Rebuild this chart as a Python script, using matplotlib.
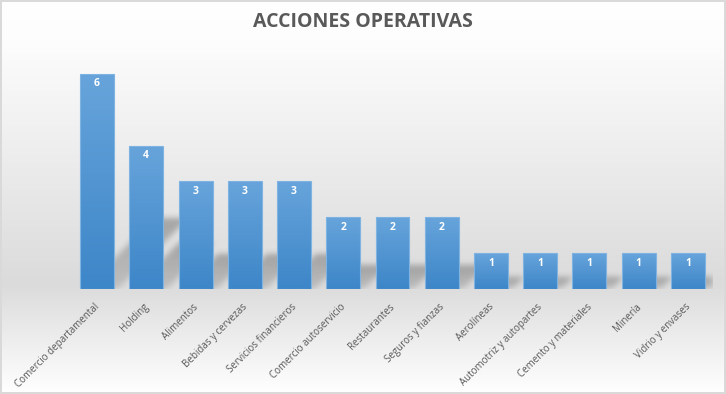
import numpy as np
import matplotlib
matplotlib.use('Agg')
import matplotlib.pyplot as plt
import matplotlib.transforms as mtransforms
from matplotlib.patches import Rectangle

# ---- data ----
categories = ['Comercio departamental', 'Holding', 'Alimentos', 'Bebidas y cervezas',
              'Servicios financieros', 'Comercio autoservicio', 'Restaurantes',
              'Seguros y fianzas', 'Aerolíneas', 'Automotriz y autopartes',
              'Cemento y materiales', 'Minería', 'Vidrio y envases']
values = [6, 4, 3, 3, 3, 2, 2, 2, 1, 1, 1, 1, 1]
title = 'ACCIONES OPERATIVAS'

W, H, DPI = 726, 394, 100
FONT = ['Open Sans', 'DejaVu Sans']
plt.rcParams['font.family'] = FONT

fig = plt.figure(figsize=(W / DPI, H / DPI), dpi=DPI)

# ---- background gradient ----
bg = fig.add_axes([0, 0, 1, 1], zorder=-10)
bg.set_axis_off()
ys = np.linspace(0, 1, 400)
g = np.interp(ys, [0, 0.10, 0.72, 1.0], [255, 253, 219, 255]) / 255.0
img = np.dstack([np.repeat(g[:, None], 2, axis=1)] * 3)
bg.imshow(img, aspect='auto', extent=[0, 1, 0, 1], interpolation='bilinear')
bg.set_xlim(0, 1); bg.set_ylim(0, 1)
bg.add_patch(Rectangle((0.7 / W, 0.7 / H), 1 - 1.4 / W, 1 - 1.4 / H, fill=False,
                       edgecolor='#d9d9d9', lw=1.4, transform=bg.transAxes))

# ---- main axes ----
left_px, right_px, top_px, base_px = 72.4, 712.6, 60, 289
ax = fig.add_axes([left_px / W, (H - base_px) / H, (right_px - left_px) / W,
                   (base_px - top_px) / H])
ax.set_facecolor('none')
n = len(values)
x = np.arange(n)
ymax = 6.39
ax.set_xlim(-0.5, n - 0.5)
ax.set_ylim(0, ymax)
bw = 0.69
bars = ax.bar(x, values, width=bw, color='none', edgecolor='#7fb3e2', lw=0.8, zorder=3)

# gradient fill for bars
grad = np.linspace(0, 1, 100)[:, None]
top_c = np.array([0x67, 0xa4, 0xdb]) / 255
bot_c = np.array([0x3d, 0x86, 0xc8]) / 255
gimg = (top_c[None, None, :] * (1 - grad[:, :, None]) + bot_c[None, None, :] * grad[:, :, None])
gimg = np.repeat(gimg, 2, axis=1)
for b in bars:
    x0, y0, w, h = b.get_x(), b.get_y(), b.get_width(), b.get_height()
    im = ax.imshow(gimg, extent=[x0, x0 + w, y0, y0 + h], aspect='auto',
                   interpolation='bilinear', zorder=2)
    im.set_clip_path(b)

# ---- soft perspective shadow ----
axw_px = right_px - left_px
axh_px = base_px - top_px
pxu_x = axw_px / n
pxu_y = axh_px / ymax
NX, NY = int(round(axw_px)), int(round(axh_px))
cols = np.arange(NX) + 0.5
rows_dy = (np.arange(NY)[::-1] + 0.5)  # dy above baseline (px), top row first
mask = np.zeros((NY, NX))
s, kskew, off = 0.33, 1.0, 4.0
for xi, v in zip(x, values):
    x0p = (xi - bw / 2 + 0.5) * pxu_x
    x1p = (xi + bw / 2 + 0.5) * pxu_x
    hsh = s * v * pxu_y
    for r, dy in enumerate(rows_dy):
        if dy > hsh:
            continue
        l = x0p + off + kskew * dy
        rr = x1p + off + kskew * dy
        sel = (cols >= l) & (cols <= rr)
        mask[r, sel] = np.maximum(mask[r, sel], 0.45 + 0.55 * dy / hsh)


def blur(a, sigma):
    rad = int(3 * sigma)
    k = np.exp(-0.5 * (np.arange(-rad, rad + 1) / sigma) ** 2)
    k /= k.sum()
    a = np.apply_along_axis(lambda m: np.convolve(m, k, mode='same'), 1, a)
    a = np.apply_along_axis(lambda m: np.convolve(m, k, mode='same'), 0, a)
    return a

mask = blur(mask, 3.0)
sh = np.zeros((NY, NX, 4))
sh[..., 3] = np.clip(mask, 0, 1) * 0.28
ax.imshow(sh, extent=[-0.5, n - 0.5, 0, ymax], aspect='auto', zorder=1,
          interpolation='bilinear')
ax.set_xlim(-0.5, n - 0.5)
ax.set_ylim(0, ymax)

# ---- data labels ----
lab_off = mtransforms.offset_copy(ax.transData, fig=fig, x=0, y=-10 * 72 / DPI, units='points')
for xi, v in zip(x, values):
    ax.text(xi, v, str(v), transform=lab_off, ha='center', va='center', color='white',
            fontsize=7.5, fontweight='bold', zorder=5)

# ---- axes styling ----
for sp in ax.spines.values():
    sp.set_visible(False)
ax.set_yticks([])
ax.set_xticks(x)
ax.set_xticklabels(categories, rotation=45, ha='right', rotation_mode='anchor',
                   fontsize=7.0, color='#595959')
ax.tick_params(axis='x', length=0, pad=9)
shift = mtransforms.ScaledTranslation(-3 / DPI, 0, fig.dpi_scale_trans)
for t in ax.get_xticklabels():
    t.set_transform(t.get_transform() + shift)

fig.text(0.5, 1 - 22 / H, title, ha='center', va='center', fontsize=14,
         fontweight='bold', color='#595959')

fig.savefig('out.png', dpi=DPI)
